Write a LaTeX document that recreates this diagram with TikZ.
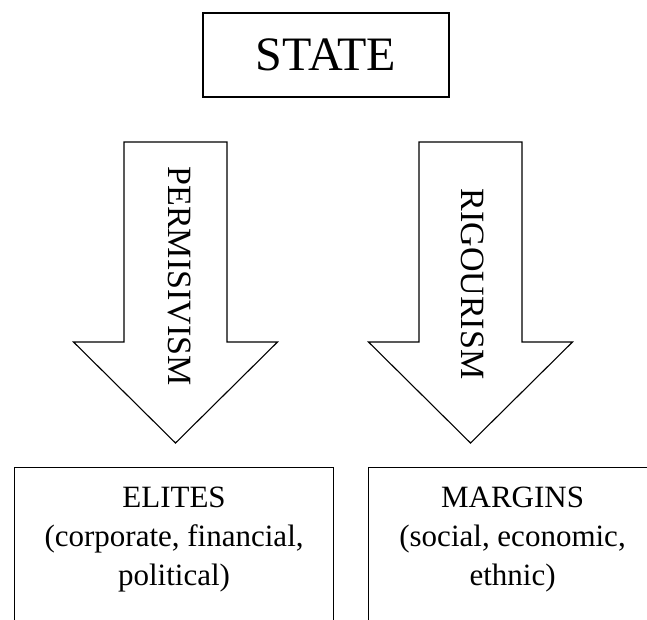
\documentclass[tikz,border=0pt]{standalone}
\usepackage{fontspec}
\setmainfont{Liberation Serif}
\usepackage{tikz}
\usetikzlibrary{positioning}

\begin{document}
\begin{tikzpicture}[
    x=1pt, y=-1pt,
    block/.style={rectangle, draw, line width=1.1pt, inner sep=0pt},
    blockarrow/.style={draw, line width=1.1pt, fill=white, line join=miter},
    armtext/.style={rotate=-90, inner sep=0pt, font=\fontsize{34}{40}\selectfont},
    boxtext/.style={align=center, inner sep=0pt, font=\fontsize{31}{39}\selectfont}
]
    \useasboundingbox (0,0) rectangle (647,619);
    \clip (0,0) rectangle (647,619);

    \node[block, minimum width=246pt, minimum height=84pt,
          font=\fontsize{48}{56}\selectfont] (state) at (326,55) {STATE};

    % the two wide arrows
    \coordinate (permtop) at (175.5,142);
    \coordinate (rigtop) at (470.5,142);
    \draw[blockarrow] (permtop) -- ++(51.5,0) -- ++(0,200) -- ++(50.5,0)
        -- ++(-102,101) -- ++(-102,-101) -- ++(50.5,0) -- ++(0,-200) -- cycle;
    \draw[blockarrow] (rigtop) -- ++(51.5,0) -- ++(0,200) -- ++(50.5,0)
        -- ++(-102,101) -- ++(-102,-101) -- ++(50.5,0) -- ++(0,-200) -- cycle;

    \node[armtext] (perm) at (179,276) {PERMISIVISM};
    \node[armtext] (rig) at (472.5,284) {RIGOURISM};

    % bottom boxes, cut by the page edge
    \node[block, anchor=north west, minimum width=319pt, minimum height=200pt] (elites) at (14,467) {};
    \node[block, anchor=north west, minimum width=288pt, minimum height=200pt] (margins) at (368,467) {};

    \node[boxtext, below=19.5pt of elites.north] (elitestxt)
        {ELITES\\(corporate, financial,\\political)};
    \node[boxtext, below=19.5pt of margins.north] (marginstxt)
        {MARGINS\\(social, economic,\\ethnic)};
\end{tikzpicture}
\end{document}
